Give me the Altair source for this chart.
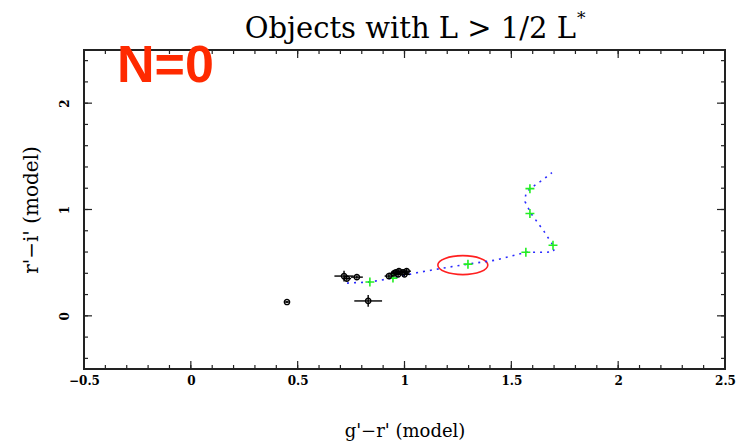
import altair as alt
import pandas as pd

W, H = 641, 319

# observed objects (g'-r', r'-i') with error bars
obs_x = [0.45, 0.83, 0.717, 0.73, 0.777, 0.927, 0.951, 0.974, 0.993, 1.01, 0.97, 1.00, 0.96]
obs_y = [0.13, 0.14, 0.374, 0.35, 0.364, 0.374, 0.40, 0.42, 0.41, 0.42, 0.39, 0.39, 0.41]
obs_xerr = [0.012, 0.065, 0.045, 0.02, 0.028, 0.02, 0.025, 0.02, 0.025, 0.02, 0.02, 0.025, 0.02]
obs_yerr = [0.012, 0.055, 0.05, 0.02, 0.015, 0.025, 0.025, 0.03, 0.025, 0.02, 0.025, 0.02, 0.02]

# model track (blue dotted)
track_x = [0.731, 0.838, 0.946, 1.049, 1.180, 1.297, 1.423, 1.568, 1.665, 1.699,
           1.695, 1.653, 1.592, 1.564, 1.568, 1.587, 1.648, 1.690]
track_y = [0.308, 0.318, 0.355, 0.402, 0.449, 0.486, 0.523, 0.598, 0.598, 0.607,
           0.664, 0.794, 0.963, 1.075, 1.150, 1.196, 1.280, 1.346]

# green markers on the track
mark_x = [0.838, 0.946, 1.297, 1.568, 1.695, 1.587, 1.587]
mark_y = [0.318, 0.355, 0.486, 0.598, 0.664, 0.963, 1.196]

# red ellipse centre
ell_x = [1.273]
ell_y = [0.477]

x_major = [0, 0.5, 1, 1.5, 2]
x_minor = [round(-0.4 + 0.1 * i, 2) for i in range(29)]
y_major = [0, 1, 2]
y_minor = [round(-0.4 + 0.2 * i, 2) for i in range(15)]
x_labels = [-0.5, 0, 0.5, 1, 1.5, 2, 2.5]
y_labels = [0, 1, 2]

title_text = "Objects with L > 1/2 L"
title_sup = "*"
note_text = "N=0"
x_title = "g'\u2212r' (model)"
y_title = "r'\u2212i' (model)"

SERIF = "DejaVu Serif"

sx = alt.Scale(domain=[-0.5, 2.5], nice=False, zero=False)
sy = alt.Scale(domain=[-0.5, 2.5], nice=False, zero=False)
ax_x = alt.Axis(values=x_labels, format="~g", title=x_title, ticks=False, domain=False, grid=False,
                labelFont=SERIF, labelFontWeight="bold", labelFontSize=12, labelColor="black",
                labelPadding=6, titleFont=SERIF, titleFontSize=18, titleFontWeight="normal",
                titleColor="black", titlePadding=36, labelFlush=False)
ax_y = alt.Axis(values=y_labels, format="~g", title=y_title, ticks=False, domain=False, grid=False,
                labelFont=SERIF, labelFontWeight="bold", labelFontSize=12, labelColor="black",
                labelAngle=-90, labelPadding=13, titleFont=SERIF, titleFontSize=20,
                titleFontWeight="normal", titleColor="black", titlePadding=17)


def X(f):
    return alt.X(f, type="quantitative", scale=sx, axis=ax_x)


def Y(f):
    return alt.Y(f, type="quantitative", scale=sy, axis=ax_y)


obs = pd.DataFrame({"x": obs_x, "y": obs_y, "xe": obs_xerr, "ye": obs_yerr})
obs["x0"] = obs.x - obs.xe
obs["x1"] = obs.x + obs.xe
obs["y0"] = obs.y - obs.ye
obs["y1"] = obs.y + obs.ye
track = pd.DataFrame({"x": track_x, "y": track_y, "i": range(len(track_x))})
marks = pd.DataFrame({"x": mark_x, "y": mark_y})
ell = pd.DataFrame({"x": ell_x, "y": ell_y})

ellipse_path = ("M -1 0 C -1 -0.21 -0.552 -0.38 0 -0.38 C 0.552 -0.38 1 -0.21 1 0 "
                "C 1 0.21 0.552 0.38 0 0.38 C -0.552 0.38 -1 0.21 -1 0 Z")
plus_path = "M -1 0 L 1 0 M 0 -1 L 0 1"

ellipse = alt.Chart(ell).mark_point(shape=ellipse_path, size=2500, filled=False,
                                    stroke="#ff2020", strokeWidth=1.6, opacity=1).encode(
    x=X("x"), y=Y("y"))

line = alt.Chart(track).mark_line(color="#2a2aff", strokeWidth=1.6, strokeDash=[2, 5]).encode(
    x=X("x"), y=Y("y"), order=alt.Order("i:Q"))

green = alt.Chart(marks).mark_point(shape=plus_path, size=80, filled=False,
                                    stroke="#22ee22", strokeWidth=1.6, opacity=1).encode(
    x=X("x"), y=Y("y"))

errx = alt.Chart(obs).mark_rule(color="black", strokeWidth=1.4).encode(
    x=X("x0"), x2="x1", y=Y("y"))
erry = alt.Chart(obs).mark_rule(color="black", strokeWidth=1.4).encode(
    x=X("x"), y=Y("y0"), y2="y1")
pts = alt.Chart(obs).mark_point(shape="circle", size=28, filled=False, color="black",
                                strokeWidth=1.4, opacity=1).encode(x=X("x"), y=Y("y"))


def xticks(vals, length):
    d = pd.DataFrame({"v": vals})
    b = alt.Chart(d).mark_rule(color="#222", strokeWidth=1.2).encode(
        x=X("v"), y=alt.value(H), y2=alt.value(H - length))
    t = alt.Chart(d).mark_rule(color="#222", strokeWidth=1.2).encode(
        x=X("v"), y=alt.value(0), y2=alt.value(length))
    return [b, t]


def yticks(vals, length):
    d = pd.DataFrame({"v": vals})
    l = alt.Chart(d).mark_rule(color="#222", strokeWidth=1.2).encode(
        y=Y("v"), x=alt.value(0), x2=alt.value(length))
    r = alt.Chart(d).mark_rule(color="#222", strokeWidth=1.2).encode(
        y=Y("v"), x=alt.value(W), x2=alt.value(W - length))
    return [l, r]


ticks = xticks(x_minor, 4) + xticks(x_major, 8) + yticks(y_minor, 4) + yticks(y_major, 8)

one = pd.DataFrame({"t": [title_text], "s": [title_sup], "n": [note_text]})
title = alt.Chart(one).mark_text(font=SERIF, fontSize=29, align="right", baseline="alphabetic",
                                 color="black").encode(
    text="t:N", x=alt.value(492), y=alt.value(-12))
sup = alt.Chart(one).mark_text(font=SERIF, fontSize=17, align="left", baseline="alphabetic",
                               color="black").encode(
    text="s:N", x=alt.value(493), y=alt.value(-26))
note = alt.Chart(one).mark_text(font="Liberation Sans", fontWeight="bold", fontSize=52,
                                align="left", baseline="alphabetic", color="#ff2a00").encode(
    text="n:N", x=alt.value(33), y=alt.value(32))

chart = alt.layer(ellipse, line, green, errx, erry, pts, *ticks, title, sup, note).properties(
    width=W, height=H, autosize="none",
    padding={"left": 84, "top": 50, "right": 17, "bottom": 75},
    background="white",
).configure_view(stroke="#222", strokeWidth=2)

chart.save("out.html", embed_options={"renderer": "svg", "actions": False})
